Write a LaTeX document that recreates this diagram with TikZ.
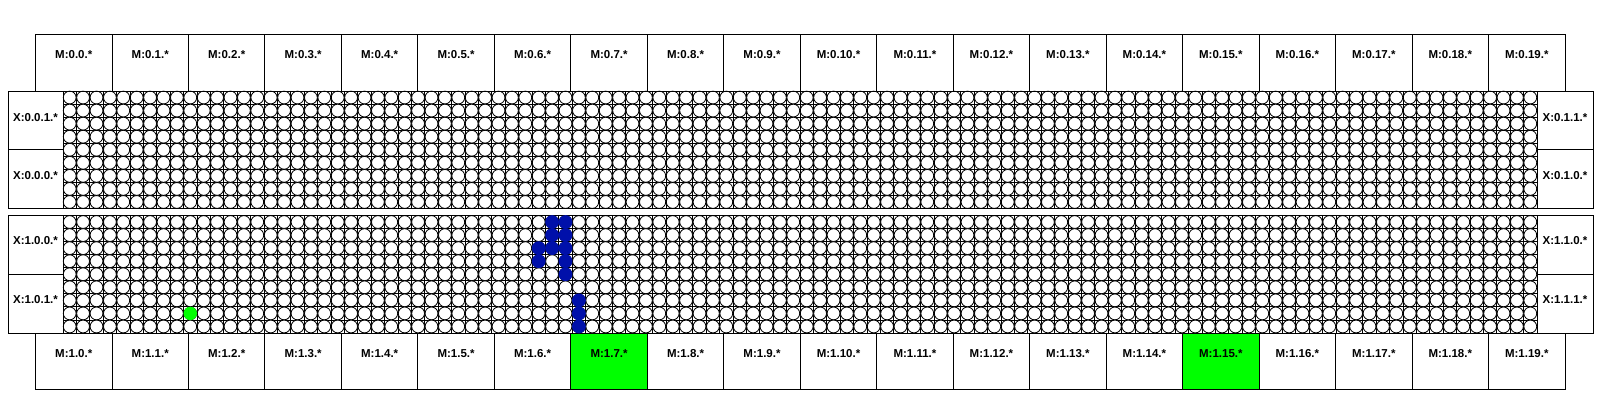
\documentclass[tikz,border=0pt]{standalone}
\usepackage{fontspec}
\setmainfont{Liberation Sans}
\definecolor{dotblue}{RGB}{0,16,170}
\definecolor{hotgreen}{RGB}{0,255,0}
\begin{document}
\begin{tikzpicture}[x=1pt,y=-1pt,
  box/.style={draw=black,line width=0.9pt},
  lab/.style={font=\bfseries\fontsize{11.5}{12}\selectfont,inner sep=0pt},
  gridline/.style={draw=black,line width=0.8pt},
  cell/.style={draw=black,fill=white,line width=0.8pt},
  bluecell/.style={fill=dotblue},
  greencell/.style={fill=hotgreen}]
\useasboundingbox (0,0) rectangle (1600,400);
\fill[white] (0,0) rectangle (1600,400);
\def\gx{63}\def\px{13.4}\def\py{13.0556}
% green memory boxes
\fill[hotgreen] ({35.5+76.475*7},333) rectangle ({35.5+76.475*8},389);
\fill[hotgreen] ({35.5+76.475*15},333) rectangle ({35.5+76.475*16},389);
% memory boxes
\foreach \i in {0,...,19}{
  \pgfmathsetmacro\xa{35.5+76.475*\i}
  \pgfmathsetmacro\xb{\xa+76.475}
  \pgfmathsetmacro\xc{\xa+38.24}
  \draw[box] (\xa,34) rectangle (\xb,91);
  \node[lab] (mt\i) at (\xc,54.5) {M:0.\i.*};
  \draw[box] (\xa,333) rectangle (\xb,389);
  \node[lab] (mb\i) at (\xc,353.5) {M:1.\i.*};
}
% two sections of cores
\foreach \yt in {91,215.5}{
  \foreach \c in {0,...,110}{
    \draw[gridline] ({\gx+\px*\c},\yt) -- ({\gx+\px*\c},{\yt+9*\py});
  }
  \foreach \r in {0,...,9}{
    \draw[gridline] (\gx,{\yt+\py*\r}) -- ({\gx+110*\px},{\yt+\py*\r});
  }
  \foreach \c in {0,...,109}{
    \foreach \r in {0,...,8}{
      \draw[cell] ({\gx+\px*(\c+0.5)},{\yt+\py*(\r+0.5)}) circle[radius=6.4];
    }
  }
  \draw[box] (8,\yt) rectangle (1593,{\yt+9*\py});
  \draw[box] (\gx,\yt) -- (\gx,{\yt+9*\py});
  \draw[box] ({\gx+110*\px},\yt) -- ({\gx+110*\px},{\yt+9*\py});
  \draw[box] (8,{\yt+4.5*\py}) -- (\gx,{\yt+4.5*\py});
  \draw[box] ({\gx+110*\px},{\yt+4.5*\py}) -- (1593,{\yt+4.5*\py});
}
% highlighted cores in section 2
\foreach \c/\r in {36/0,37/0,36/1,37/1,35/2,36/2,37/2,35/3,37/3,37/4,38/6,38/7,38/8}{
  \fill[bluecell] ({\gx+\px*(\c+0.5)},{215.5+\py*(\r+0.5)}) circle[radius=6.9];
}
\fill[greencell] ({\gx+\px*(9+0.5)},{215.5+\py*(7+0.5)}) circle[radius=6.7];
% IO labels
\node[lab] (x001) at (35.5,118) {X:0.0.1.*};
\node[lab] (x000) at (35.5,176) {X:0.0.0.*};
\node[lab] (x100) at (35.5,240.5) {X:1.0.0.*};
\node[lab] (x101) at (35.5,300) {X:1.0.1.*};
\node[lab] (x011) at (1565,118) {X:0.1.1.*};
\node[lab] (x010) at (1565,176) {X:0.1.0.*};
\node[lab] (x110) at (1565,240.5) {X:1.1.0.*};
\node[lab] (x111) at (1565,300) {X:1.1.1.*};
\end{tikzpicture}
\end{document}
